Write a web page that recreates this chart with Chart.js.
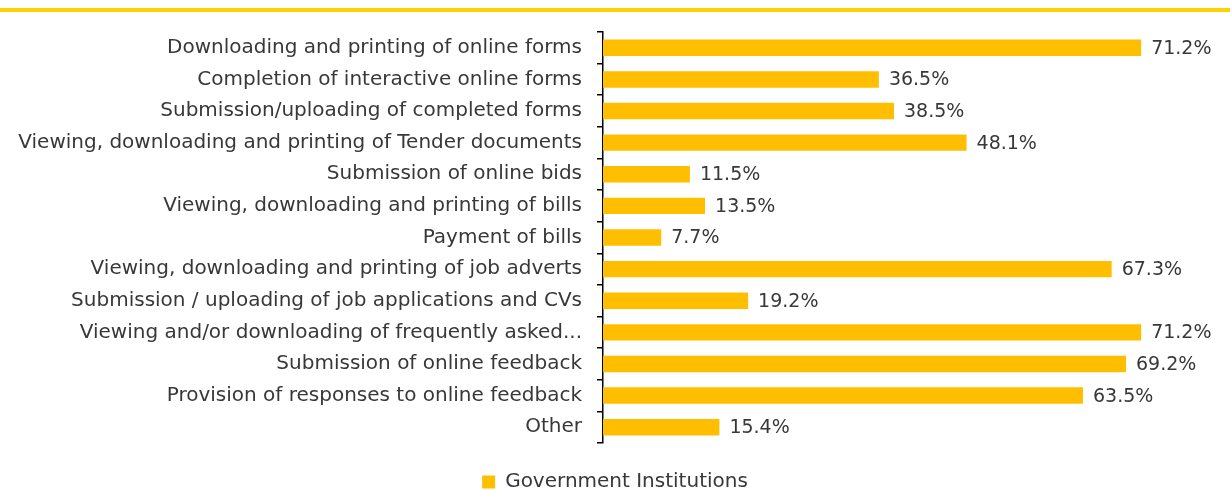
<!DOCTYPE html>
<html lang="en">
<head>
<meta charset="UTF-8">
<title>Government Institutions online services</title>
<style>
  body { margin: 0; background: #fff; }
  .wrap { position: relative; width: 1230px; height: 490px; }
  .topline { position: absolute; left: 0; top: 8px; width: 1230px; height: 4px; background: #FFD200; }
  canvas { position: absolute; left: 0; top: 0; }
</style>
<script src="https://cdn.jsdelivr.net/npm/chart.js"></script>
</head>
<body>
<div class="wrap">
  <div class="topline"></div>
  <canvas id="chart" width="1230" height="490"></canvas>
</div>
<script>
const categories = [
  'Downloading and printing of online forms',
  'Completion of interactive online forms',
  'Submission/uploading of completed forms',
  'Viewing, downloading and printing of Tender documents',
  'Submission of online bids',
  'Viewing, downloading and printing of bills',
  'Payment of bills',
  'Viewing, downloading and printing of job adverts',
  'Submission / uploading of job applications and CVs',
  'Viewing and/or downloading of frequently asked...',
  'Submission of online feedback',
  'Provision of responses to online feedback',
  'Other'
];
const governmentInstitutions = [71.2, 36.5, 38.5, 48.1, 11.5, 13.5, 7.7, 67.3, 19.2, 71.2, 69.2, 63.5, 15.4];
const seriesLabel = 'Government Institutions';
const xMin = 0;
const xMax = 81.5;

const FONT = "'DejaVu Sans', sans-serif";

// value labels at the end of each bar
const valueLabels = {
  id: 'valueLabels',
  afterDatasetsDraw(chart) {
    const ctx = chart.ctx;
    ctx.save();
    ctx.font = '19px ' + FONT;
    ctx.fillStyle = '#383838';
    ctx.textAlign = 'left';
    ctx.textBaseline = 'middle';
    chart.getDatasetMeta(0).data.forEach((bar, i) => {
      ctx.fillText(governmentInstitutions[i].toFixed(1) + '%', bar.x + 10, bar.y + 1);
    });
    ctx.restore();
  }
};

new Chart(document.getElementById('chart'), {
  type: 'bar',
  data: {
    labels: categories,
    datasets: [{
      label: seriesLabel,
      data: governmentInstitutions,
      backgroundColor: '#FFBF00',
      barPercentage: 0.52,
      categoryPercentage: 1
    }]
  },
  options: {
    indexAxis: 'y',
    responsive: false,
    animation: false,
    layout: { padding: { top: 32, right: 11, bottom: -12, left: 11 } },
    scales: {
      x: { display: false, min: xMin, max: xMax },
      y: {
        grid: { drawOnChartArea: false, tickLength: 6, color: '#000', lineWidth: 1.5 },
        border: { display: true, color: '#000', width: 1.5 },
        ticks: { color: '#383838', font: { family: FONT, size: 20 }, padding: 15 },
        afterFit(scale) { scale.width = 592; }
      }
    },
    plugins: {
      legend: {
        position: 'bottom',
        labels: { boxWidth: 13, boxHeight: 13, color: '#383838', font: { family: FONT, size: 20 }, padding: 29 }
      },
      tooltip: { enabled: false }
    }
  },
  plugins: [valueLabels]
});
</script>
</body>
</html>
